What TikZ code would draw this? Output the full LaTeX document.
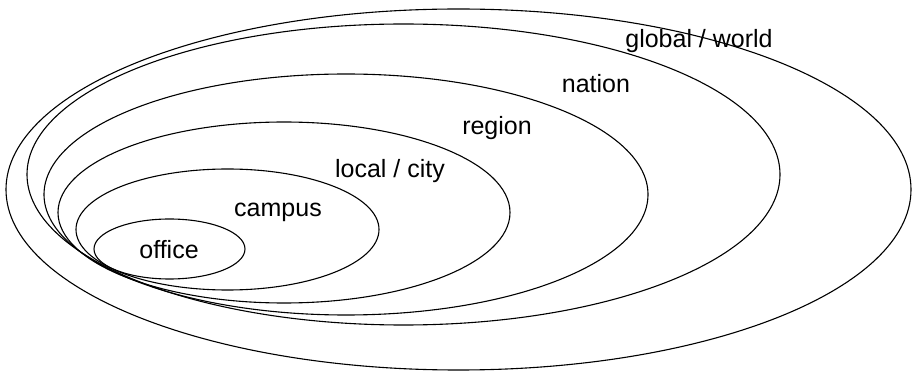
\documentclass[tikz,border=0pt]{standalone}
\usepackage{fontspec}
\setmainfont{Liberation Sans}
\begin{document}
\begin{tikzpicture}[x=1pt,y=-1pt,
  ring/.style={draw=black, line width=1.1pt},
  lbl/.style={font=\fontsize{25}{28}\selectfont, inner sep=0pt}]
\useasboundingbox[fill=white] (0,0) rectangle (913,371);
% nested scopes
\draw[ring] (169.5,249) ellipse [x radius=75.5pt, y radius=30pt];
\draw[ring] (227.5,229.5) ellipse [x radius=151.5pt, y radius=60.5pt];
\draw[ring] (284,212.5) ellipse [x radius=226pt, y radius=90.5pt];
\draw[ring] (346,194.5) ellipse [x radius=302pt, y radius=120.5pt];
\draw[ring] (403.5,174.5) ellipse [x radius=376.5pt, y radius=150.5pt];
\draw[ring] (458.5,189.5) ellipse [x radius=452.5pt, y radius=180.5pt];
% labels
\node[lbl] (office) at (169,250) {office};
\node[lbl] (campus) at (278,212) {campus};
\node[lbl] (local) at (390,171) {local / city};
\node[lbl] (region) at (497,128) {region};
\node[lbl] (nation) at (596,84) {nation};
\node[lbl] (global) at (699,41) {global / world};
\end{tikzpicture}
\end{document}
